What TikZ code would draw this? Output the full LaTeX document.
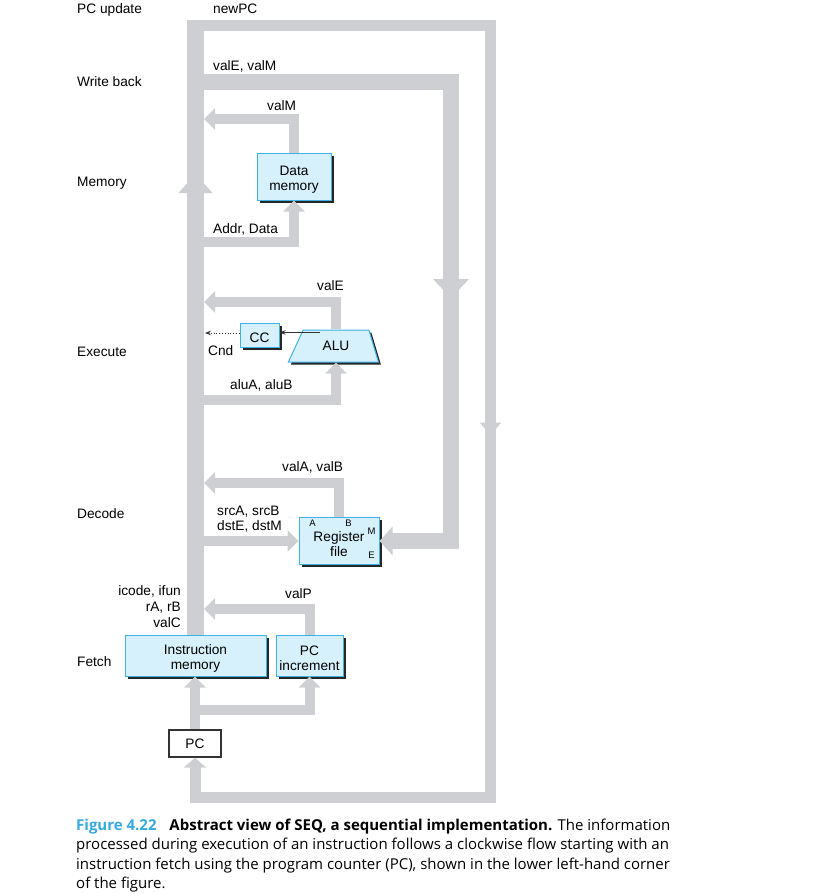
\documentclass[tikz,border=0pt]{standalone}
\usepackage{fontspec}
\setmainfont{Liberation Sans}
\newfontfamily\capfont{Open Sans}
\usetikzlibrary{arrows.meta,shapes.geometric,shadows}
\definecolor{busgray}{RGB}{205,207,210}
\definecolor{unitfill}{RGB}{214,241,252}
\definecolor{unitline}{RGB}{62,178,230}
\definecolor{figblue}{RGB}{52,170,224}
\newcommand\ustrut{\rule{0pt}{16pt}}

\begin{document}
\begin{tikzpicture}[x=1pt,y=-1pt,
every node/.style={font=\fontsize{13.7}{15}\selectfont},
bus/.style={draw=busgray,line width=10pt},
thinbus/.style={draw=busgray,line width=11pt},
widebus/.style={draw=busgray,line width=16pt},
mainbus/.style={draw=busgray,line width=17pt},
busarrow/.style={-{Triangle[width=21pt,length=11pt]}},
unit/.style={rectangle,draw=unitline,fill=unitfill,line width=1pt,align=center,inner sep=0pt,
  drop shadow={shadow xshift=2.5pt,shadow yshift=-2.5pt,fill=black!85,opacity=1}},
stage/.style={anchor=base west,inner sep=0pt},
lbl/.style={anchor=base west,inner sep=0pt},
port/.style={font=\fontsize{9.5}{10}\selectfont,inner sep=0pt},
signal/.style={line width=0.8pt,black!80,-{Stealth[length=6pt,width=4.5pt]}}
]
\useasboundingbox (0,0) rectangle (830,894);

% stages
\node[stage] (s-pc) at (77,13) {PC update};
\node[stage] (s-wb) at (77,86) {Write back};
\node[stage] (s-mem) at (77,186) {Memory};
\node[stage] (s-ex) at (77,356) {Execute};
\node[stage] (s-dec) at (77,518) {Decode};
\node[stage] (s-fet) at (77,666) {Fetch};

% hardware units
\node[unit,minimum width=74pt,minimum height=47pt] (dmem) at (294,176.5) {\ustrut Data\\memory};
\node[unit,minimum width=39pt,minimum height=24pt] (cc) at (259.5,335) {\ustrut CC};
\node[unit,trapezium,trapezium left angle=58,trapezium right angle=68,trapezium stretches=true,
  minimum width=90pt,minimum height=32pt] (alu) at (336,346) {ALU};
\node[unit,minimum width=80pt,minimum height=47pt] (regfile) at (339,541) {\ustrut Register\\file};
\node[port,xshift=14pt,yshift=-6pt] (portA) at (regfile.north west) {A};
\node[port,xshift=50pt,yshift=-6pt] (portB) at (regfile.north west) {B};
\node[port,xshift=-8pt,yshift=-14pt] (portM) at (regfile.north east) {M};
\node[port,xshift=-8pt,yshift=10pt] (portE) at (regfile.south east) {E};
\node[unit,minimum width=141pt,minimum height=41pt] (imem) at (195.5,655.5) {\ustrut Instruction\\memory};
\node[unit,minimum width=67pt,minimum height=41pt] (pcinc) at (309.5,655.5) {\ustrut PC\\increment};
\node[draw=black!80,line width=1.3pt,fill=white,minimum width=52pt,minimum height=27pt,inner sep=0pt] (pc) at (195,743.5) {PC};

% taps on the main bus
\foreach \n/\y in {valM/119,valE/302,valA/483,valP/609}
  \coordinate (\n) at (204,\y);
\foreach \n/\y in {addr/242,aluin/400,srcin/541,wb/82}
  \coordinate (\n) at (196,\y);
\coordinate (top) at (195.5,20);
\coordinate (cnd) at (205,333);

% main bus
\draw[mainbus,-{Triangle[width=33pt,length=19pt]}] (imem.north) -- (195.5,174);
\draw[mainbus] (195.5,193) -- (top);

% newPC
\draw[thinbus,-{Triangle[width=21pt,length=12.5pt]}] (187,25.5) -- (490.5,25.5) -- (490.5,435);
\draw[thinbus,-{Triangle[width=22pt,length=10pt]}] (490.5,422) -- (490.5,797) -| (pc.south);

% write back
\draw[widebus,-{Triangle[width=35pt,length=19pt]}] (wb) -- (451,82) -- (451,298);
\draw[widebus,-{Triangle[width=28pt,length=13pt]}] (451,279) |- (regfile.east);

% memory
\draw[bus,busarrow] (dmem.north) |- (valM);
\draw[bus,busarrow] (addr) -| (dmem.south);

% execute
\draw[bus,busarrow] (alu.north) |- (valE);
\draw[bus,busarrow] (aluin) -| (alu.south);
\draw[signal] ([yshift=-3pt]alu.north west) -- ([yshift=-3pt]alu.north west -| cc.east);
\draw[signal,dotted] ([yshift=2pt]cc.west) -- (cnd);

% decode
\draw[bus,busarrow] (regfile.north) |- (valA);
\draw[bus,busarrow] (srcin) -- (regfile.west);

% fetch
\draw[bus,busarrow] (pcinc.north) |- (valP);
\draw[bus,busarrow] (pc.north) -- (pc.north |- imem.south);
\draw[bus,busarrow] (pc.north |- 0,710) -| (pcinc.south);

% signal names
\node[lbl] (l-newpc) at (213,13) {newPC};
\node[lbl] (l-wb) at (213,70) {valE, valM};
\node[lbl] (l-valm) at (267,110) {valM};
\node[lbl] (l-addr) at (213,233) {Addr, Data};
\node[lbl] (l-vale) at (317,290) {valE};
\node[lbl] (l-cnd) at (208,355) {Cnd};
\node[lbl] (l-alu) at (230,389) {aluA, aluB};
\node[lbl] (l-vala) at (282,471) {valA, valB};
\node[lbl] (l-src) at (217,515) {srcA, srcB};
\node[lbl] (l-dst) at (217,530) {dstE, dstM};
\node[anchor=base east,inner sep=0pt] (l-icode) at (181,595) {icode, ifun};
\node[anchor=base east,inner sep=0pt] (l-rarb) at (181,611) {rA, rB};
\node[anchor=base east,inner sep=0pt] (l-valc) at (181,627) {valC};
\node[lbl] (l-valp) at (285,598) {valP};

% caption
\node[anchor=north west,inner sep=0pt,align=left,font=\capfont\fontsize{15}{19.3}\selectfont] (caption) at (76,819)
{{\color{figblue}\bfseries Figure 4.22}\hspace{9pt} {\bfseries Abstract view of SEQ, a sequential implementation.} The information\\
processed during execution of an instruction follows a clockwise flow starting with an\\
instruction fetch using the program counter (PC), shown in the lower left-hand corner\\
of the figure.};
\end{tikzpicture}
\end{document}
